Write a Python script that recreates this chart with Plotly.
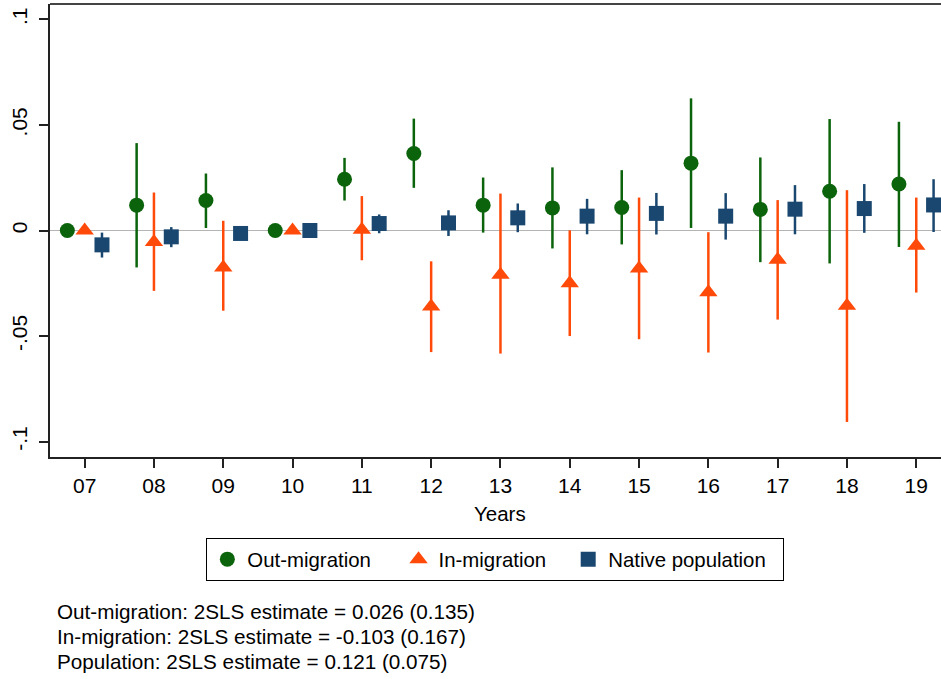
import plotly.graph_objects as go

years = [7, 8, 9, 10, 11, 12, 13, 14, 15, 16, 17, 18, 19]
tick_labels = ["07", "08", "09", "10", "11", "12", "13", "14", "15", "16", "17", "18", "19"]

out_est = [0, 0.0120, 0.0142, 0, 0.0243, 0.0365, 0.0120, 0.0107, 0.0109, 0.0319, 0.0100, 0.0186, 0.0220]
out_lo = [0, -0.0175, 0.0012, 0, 0.0142, 0.0202, -0.0010, -0.0085, -0.0066, 0.0012, -0.0150, -0.0156, -0.0078]
out_hi = [0, 0.0414, 0.0270, 0, 0.0344, 0.0530, 0.0251, 0.0299, 0.0286, 0.0626, 0.0346, 0.0528, 0.0515]

in_est = [0, -0.0055, -0.0175, 0, 0.0004, -0.0360, -0.0210, -0.0250, -0.0180, -0.0293, -0.0138, -0.0356, -0.0072]
in_lo = [0, -0.0286, -0.0380, 0, -0.0141, -0.0576, -0.0583, -0.0500, -0.0515, -0.0578, -0.0422, -0.0907, -0.0294]
in_hi = [0, 0.0180, 0.0046, 0, 0.0163, -0.0146, 0.0175, 0.0001, 0.0156, -0.0008, 0.0144, 0.0191, 0.0156]

nat_est = [-0.0068, -0.0030, -0.0014, 0, 0.0033, 0.0036, 0.0060, 0.0068, 0.0081, 0.0068, 0.0101, 0.0104, 0.0121]
nat_lo = [-0.0128, -0.0079, -0.0035, 0, -0.0013, -0.0026, -0.0008, -0.0018, -0.0019, -0.0043, -0.0018, -0.0011, -0.0007]
nat_hi = [-0.0010, 0.0016, 0.0007, 0, 0.0076, 0.0096, 0.0128, 0.0150, 0.0178, 0.0177, 0.0215, 0.0220, 0.0243]

series_names = ["Out-migration", "In-migration", "Native population"]

notes = [
    "Out-migration: 2SLS estimate = 0.026 (0.135)",
    "In-migration: 2SLS estimate = -0.103 (0.167)",
    "Population: 2SLS estimate = 0.121 (0.075)",
]

FONT = "Liberation Sans, Arial, sans-serif"
NB = "\u00a0"

styles = [
    # (offset, symbol, size, colour, legend padding)
    (-0.25, "circle", 15, "#0b640b", NB * 4),
    (0.0, "triangle-up", 16, "#ff4a0a", NB * 3),
    (0.25, "square", 15, "#1a476f", NB * 2),
]
values = [(out_est, out_lo, out_hi), (in_est, in_lo, in_hi), (nat_est, nat_lo, nat_hi)]

fig = go.Figure()
for name, (est, lo, hi), (off, sym, size, col, pad) in zip(series_names, values, styles):
    fig.add_trace(go.Scatter(
        x=[y + off for y in years],
        y=est,
        mode="markers",
        name=name + pad,
        marker=dict(symbol=sym, size=size, color=col, line=dict(width=0)),
        error_y=dict(
            type="data", symmetric=False,
            array=[h - e for h, e in zip(hi, est)],
            arrayminus=[e - l for e, l in zip(est, lo)],
            color=col, thickness=2.5, width=0,
        ),
    ))

fig.update_layout(
    width=941, height=679,
    margin=dict(l=50, r=0, t=4, b=222),
    paper_bgcolor="white", plot_bgcolor="white",
    font=dict(family=FONT, size=20.5, color="black"),
    showlegend=True,
    legend=dict(
        orientation="h", x=0.4995, xanchor="center", y=-0.179, yanchor="top",
        bordercolor="black", borderwidth=1.3, font=dict(size=20.4),
        bgcolor="white",
    ),
    xaxis=dict(
        range=[6.5, 19.357], tickmode="array", tickvals=years, ticktext=tick_labels,
        showgrid=False, zeroline=False, showline=True, linecolor="#222222", linewidth=2,
        ticks="outside", ticklen=9, tickcolor="#222222", tickwidth=1.5,
        tickfont=dict(size=21),
    ),
    yaxis=dict(
        range=[-0.1073, 0.1073], tickmode="array", tickvals=[-0.1, -0.05, 0, 0.05, 0.1],
        ticktext=["-.1", "-.05", "0", ".05", ".1"], tickangle=-90,
        showgrid=False, zeroline=True, zerolinecolor="#b5b5b5", zerolinewidth=1,
        showline=True, linecolor="#222222", linewidth=2,
        ticks="outside", ticklen=9, tickcolor="#222222", tickwidth=1.5,
        tickfont=dict(size=21), ticklabelstandoff=4,
    ),
    shapes=[dict(type="line", xref="paper", yref="paper", x0=0, x1=1, y0=1, y1=1,
                 line=dict(color="#444444", width=2))],
)

fig.add_annotation(text="Years", xref="x", yref="paper", x=13, y=(457 - 513) / 453,
                   yanchor="middle", xanchor="center", showarrow=False, font=dict(size=20.5))

for i, t in enumerate(notes):
    fig.add_annotation(text=t, xref="paper", yref="paper", x=(55 - 50) / 891,
                       y=(457 - 611 - 25 * i) / 453, xanchor="left", yanchor="middle",
                       showarrow=False, align="left", font=dict(size=20.7))

fig.write_html(
    "out.html",
    config={"displayModeBar": False},
    post_script="document.body.style.margin='0';document.body.style.overflow='hidden';",
)
